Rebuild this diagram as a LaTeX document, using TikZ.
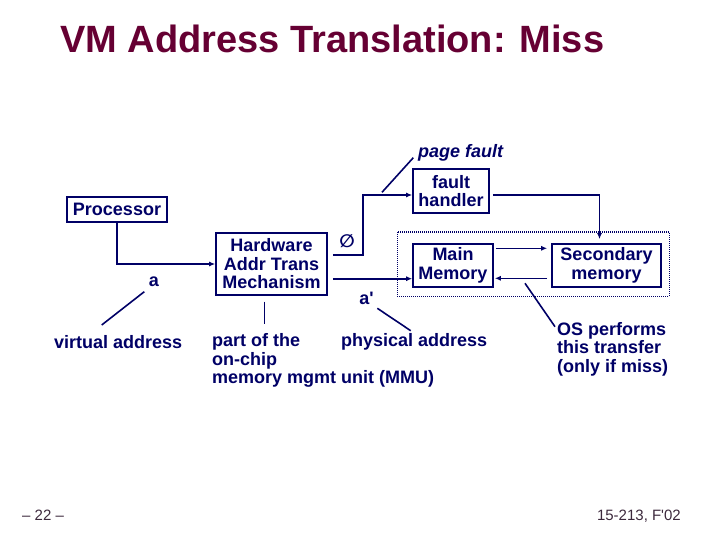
\documentclass[tikz,border=0pt]{standalone}
\usepackage{fontspec}
\setmainfont{Liberation Sans}[Ligatures=TeXOff]
\newfontfamily\symfont{DejaVu Sans}
\usetikzlibrary{arrows.meta}
\definecolor{navy}{RGB}{0,0,102}
\definecolor{maroon}{RGB}{102,0,51}
\definecolor{footgray}{RGB}{60,40,60}
\newcommand{\labelfont}{\fontsize{18}{18.5}\selectfont\bfseries}

\begin{document}
\begin{tikzpicture}[x=1pt, y=-1pt,
  unit/.style={draw=navy, line width=1.6pt, text=navy, align=center, inner sep=0pt, font=\labelfont},
  note/.style={text=navy, align=left, inner sep=0pt, font=\labelfont},
  wire/.style={navy, line width=1.6pt, -{Latex[length=6pt,width=5pt]}},
  callout/.style={navy, line width=1.6pt}]

  \useasboundingbox (0,0) rectangle (720,540);

  % title and footer
  \node[anchor=base west, inner sep=0pt, text=maroon, font=\fontsize{38}{40}\selectfont\bfseries] (title) at (60,53) {VM Address Translation: Miss};
  \node[anchor=base west, inner sep=0pt, text=footgray, font=\fontsize{15}{16}\selectfont] (pagenr) at (22,520) {– 22 –};
  \node[anchor=base east, inner sep=0pt, text=footgray, font=\fontsize{15}{16}\selectfont] (course) at (681,520) {15-213, F'02};

  % boxes
  \node[unit, minimum width=100pt, minimum height=25pt] (proc) at (117,209.5) {Processor};
  \node[unit, minimum width=111pt, minimum height=62pt] (hw) at (271.5,264) {Hardware\\Addr Trans\\Mechanism};
  \node[unit, minimum width=76pt, minimum height=44pt] (fh) at (451,191) {fault\\handler};
  \node[unit, minimum width=80pt, minimum height=43pt] (mm) at (453,265.5) {Main\\Memory};
  \node[unit, minimum width=109pt, minimum height=43pt] (sm) at (606.5,265.5) {Secondary\\memory};
  \draw[navy, line width=1pt, dash pattern=on 1pt off 1pt] (397,232) rectangle (669,296);

  % labels
  \node[note, anchor=west] (pf) at (418,153) {\itshape page fault};
  \node[note, font=\fontsize{18}{18}\selectfont\symfont\bfseries] (miss) at (347,241.5) {∅};
  \node[note] (la) at (154,281.5) {a};
  \node[note] (lb) at (366.5,298.5) {a'};
  \node[note, anchor=west] (va) at (54,342) {virtual address};
  \node[note, anchor=west] (pa) at (341,342) {physical address};
  \node[note, anchor=west] (mmu) at (212,360.5) {part of the\\on-chip\\memory mgmt unit (MMU)};
  \node[note, anchor=west] (os) at (557,349) {OS performs\\this transfer\\(only if miss)};

  % helper points
  \coordinate (jog) at (362.7,195);
  \coordinate (la end) at (101.7,325);
  \coordinate (la start) at (144.3,291.7);
  \coordinate (lb start) at (377.3,308.3);
  \coordinate (lb end) at (410.7,330.7);
  \coordinate (os start) at (525,283.3);
  \coordinate (os end) at (555,326.7);
  \coordinate (mmu start) at (264,301.7);
  \coordinate (mmu end) at (264,324.3);

  % arrows
  \draw[wire] (proc.south) |- (hw.west);
  \draw[wire] ([xshift=5pt,yshift=9.3pt]hw.east) -| (jog) -- (jog -| fh.west);
  \draw[wire] ([xshift=5pt,yshift=-14.7pt]hw.east) -- ([yshift=-13.2pt]mm.west);
  \draw[wire] ([xshift=3pt,yshift=-4pt]fh.east) -| ([xshift=-7pt,yshift=4pt]sm.north);
  \draw[wire] ([xshift=2pt,yshift=17.2pt]mm.east) -- ([xshift=-4pt,yshift=17.2pt]sm.west);
  \draw[wire] ([xshift=-4pt,yshift=-12.8pt]sm.west) -- ([xshift=1pt,yshift=-12.8pt]mm.east);

  % callouts
  \draw[callout] (la start) -- (la end);
  \draw[callout] (lb start) -- (lb end);
  \draw[callout] (os start) -- (os end);
  \draw[navy, line width=0.8pt] (mmu start) -- (mmu end);
  \draw[callout] (382,192.3) -- (413.3,157.7);

\end{tikzpicture}
\end{document}
